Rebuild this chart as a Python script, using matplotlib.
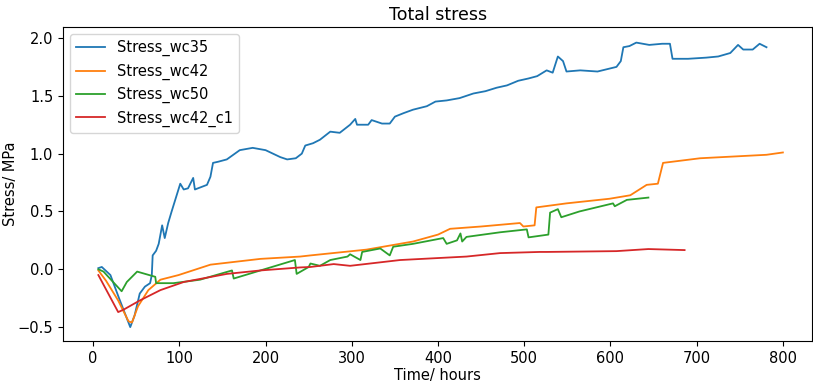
import matplotlib
matplotlib.use('Agg')
import matplotlib.pyplot as plt

# time (hours) / stress (MPa)
t_wc35 = [6, 10, 20, 30, 43, 48, 54, 60, 66, 68, 69, 73, 76, 80, 83, 87, 91, 96, 101, 105, 110,
          116, 118, 125, 132, 136, 139, 145, 155, 170, 185, 200, 217, 225, 235, 242, 246, 255,
          263, 275, 286, 298, 304, 306, 319, 323, 335, 344, 350, 360, 371, 387, 397, 410, 425,
          441, 455, 468, 480, 493, 505, 515, 526, 533, 539, 545, 549, 565, 585, 607, 612, 615,
          622, 630, 645, 660, 669, 672, 690, 711, 725, 739, 748, 754, 765, 773, 781]
s_wc35 = [0.01, 0.02, -0.05, -0.25, -0.50, -0.40, -0.21, -0.15, -0.12, -0.05, 0.12, 0.16, 0.22,
          0.38, 0.27, 0.40, 0.50, 0.62, 0.74, 0.69, 0.70, 0.79, 0.69, 0.71, 0.73, 0.80, 0.92,
          0.93, 0.95, 1.03, 1.05, 1.03, 0.97, 0.95, 0.96, 1.00, 1.07, 1.09, 1.12, 1.19, 1.18,
          1.25, 1.30, 1.25, 1.25, 1.29, 1.26, 1.26, 1.32, 1.35, 1.38, 1.41, 1.45, 1.46, 1.48,
          1.52, 1.54, 1.57, 1.59, 1.63, 1.65, 1.67, 1.72, 1.70, 1.84, 1.80, 1.71, 1.72, 1.71,
          1.75, 1.80, 1.92, 1.93, 1.96, 1.94, 1.95, 1.95, 1.82, 1.82, 1.83, 1.84, 1.87, 1.94,
          1.90, 1.90, 1.95, 1.92]

t_wc42 = [6, 15, 29, 41, 45, 52, 64, 78, 99, 136, 194, 240, 252, 317, 371, 400, 414, 450,
          495, 499, 512, 514, 549, 599, 623, 642, 655, 661, 704, 781, 800]
s_wc42 = [-0.01, -0.10, -0.27, -0.45, -0.46, -0.32, -0.18, -0.09, -0.05, 0.04, 0.09, 0.11,
          0.12, 0.17, 0.24, 0.30, 0.35, 0.37, 0.40, 0.37, 0.38, 0.535, 0.57, 0.61, 0.64, 0.73,
          0.74, 0.92, 0.96, 0.99, 1.01]

t_wc50 = [6, 12, 33, 39, 51, 72, 73, 93, 124, 161, 163, 194, 234, 236, 250, 252, 263, 275,
          295, 298, 310, 312, 333, 344, 348, 371, 406, 410, 422, 426, 428, 433, 472, 503, 505,
          528, 530, 539, 543, 564, 603, 605, 619, 644]
s_wc50 = [0.00, -0.02, -0.19, -0.11, -0.02, -0.065, -0.12, -0.12, -0.09, -0.01, -0.08, -0.01,
          0.08, -0.04, 0.02, 0.05, 0.03, 0.08, 0.11, 0.13, 0.08, 0.15, 0.18, 0.12, 0.195, 0.22,
          0.27, 0.22, 0.25, 0.31, 0.24, 0.28, 0.32, 0.345, 0.276, 0.30, 0.49, 0.52, 0.45, 0.50,
          0.57, 0.545, 0.60, 0.62]

t_wc42_c1 = [6, 29, 35, 54, 78, 105, 155, 194, 240, 252, 279, 298, 356, 433, 472, 518, 526,
             607, 644, 686]
s_wc42_c1 = [-0.05, -0.37, -0.35, -0.27, -0.18, -0.11, -0.04, -0.01, 0.016, 0.02, 0.045, 0.03,
             0.08, 0.11, 0.14, 0.15, 0.15, 0.157, 0.175, 0.166]

fig = plt.figure(figsize=(8.13, 3.85), dpi=100)
ax = fig.add_axes([0.0775, 0.1143, 0.9215, 0.8156])

ax.plot(t_wc35, s_wc35, label='Stress_wc35', lw=1.3)
ax.plot(t_wc42, s_wc42, label='Stress_wc42', lw=1.3)
ax.plot(t_wc50, s_wc50, label='Stress_wc50', lw=1.3)
ax.plot(t_wc42_c1, s_wc42_c1, label='Stress_wc42_c1', lw=1.3)

ax.set_xlim(-35, 834)
ax.set_ylim(-0.62, 2.095)
ax.set_xticks(range(0, 801, 100))
ax.set_yticks([-0.5, 0.0, 0.5, 1.0, 1.5, 2.0])
ax.tick_params(labelsize=10.5)
ax.set_xlabel('Time/ hours', fontsize=10.5, labelpad=2)
ax.set_ylabel('Stress/ MPa', fontsize=10.5, labelpad=0)
ax.set_title('Total stress', fontsize=12.5, pad=5)
ax.legend(loc='upper left', fontsize=10.5)

fig.savefig('out.png', dpi=100)
